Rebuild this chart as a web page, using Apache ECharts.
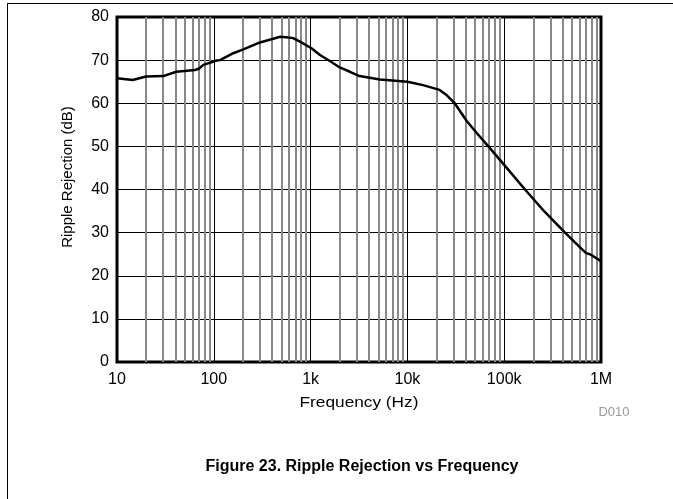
<!DOCTYPE html>
<html>
<head>
<meta charset="utf-8">
<script src="https://cdn.jsdelivr.net/npm/echarts@6/dist/echarts.min.js"></script>
<style>
html,body{margin:0;padding:0;background:#fff;}
#chart{width:673px;height:499px;}
</style>
</head>
<body>
<div id="chart"></div>
<script>
// Data
var frequencyHz = [10, 14.5, 20, 30, 41, 64, 70, 78, 107, 116, 159, 202, 300, 446, 480, 560, 660, 776, 1030, 1250, 1580, 2000, 2550, 3200, 5200, 10000, 14500, 21500, 25400, 30800, 41000, 52000, 68600, 100000, 164000, 260000, 425000, 600000, 707000, 770000, 1000000];
var rippleRejectionDb = [65.8, 65.4, 66.2, 66.3, 67.3, 67.7, 68.0, 68.9, 69.9, 70.0, 71.6, 72.5, 74.1, 75.2, 75.4, 75.3, 75.1, 74.3, 72.7, 71.2, 69.8, 68.3, 67.3, 66.3, 65.5, 65.0, 64.2, 63.1, 61.9, 60.0, 55.9, 53.1, 50.0, 45.7, 40.0, 34.9, 30.0, 26.7, 25.2, 25.0, 23.4];
var xTickLabels = {10: '10', 100: '100', 1000: '1k', 10000: '10k', 100000: '100k', 1000000: '1M'};
var minorGridFreqs = [20,30,40,50,60,70,80,90,200,300,400,500,600,700,800,900,2000,3000,4000,5000,6000,7000,8000,9000,20000,30000,40000,50000,60000,70000,80000,90000,200000,300000,400000,500000,600000,700000,800000,900000];

var seriesData = frequencyHz.map(function (f, i) { return [f, rippleRejectionDb[i]]; });
var FONT = '"Liberation Sans", Arial, sans-serif';

var chart = echarts.init(document.getElementById('chart'), null, {renderer: 'canvas'});
chart.setOption({
  animation: false,
  backgroundColor: '#fff',
  grid: {left: 117, top: 17, right: 72, bottom: 137, show: true, borderColor: '#000', borderWidth: 3, backgroundColor: 'transparent'},
  xAxis: {
    type: 'log', logBase: 10, min: 10, max: 1000000,
    axisLine: {show: false},
    axisTick: {show: false},
    splitLine: {show: true, lineStyle: {color: '#000', width: 1}},
    axisLabel: {
      fontFamily: FONT, fontSize: 16, color: '#000', margin: 10,
      formatter: function (v) { return xTickLabels[Math.round(v)] || ''; }
    }
  },
  yAxis: {
    type: 'value', min: 0, max: 80, interval: 10,
    axisLine: {show: false},
    axisTick: {show: false},
    splitLine: {show: true, lineStyle: {color: '#000', width: 1}},
    axisLabel: {fontFamily: FONT, fontSize: 16, color: '#000', margin: 8}
  },
  graphic: [
    {type: 'line', shape: {x1: 7, y1: 3.5, x2: 673, y2: 3.5}, style: {stroke: '#000', lineWidth: 1}, silent: true},
    {type: 'line', shape: {x1: 7.5, y1: 3, x2: 7.5, y2: 499}, style: {stroke: '#000', lineWidth: 1}, silent: true},
    {type: 'text', x: 68, y: 177, rotation: Math.PI / 2, style: {text: 'Ripple Rejection (dB)', fontFamily: FONT, fontSize: 15, fill: '#000', align: 'center', verticalAlign: 'middle'}, silent: true},
    {type: 'text', x: 359, y: 403, scaleX: 1.15, style: {text: 'Frequency (Hz)', fontFamily: FONT, fontSize: 15, fill: '#000', align: 'center', verticalAlign: 'middle'}, silent: true},
    {type: 'text', x: 614, y: 412, style: {text: 'D010', fontFamily: FONT, fontSize: 13, fill: '#999', align: 'center', verticalAlign: 'middle'}, silent: true},
    {type: 'text', x: 362, y: 467, style: {text: 'Figure 23. Ripple Rejection vs Frequency', fontFamily: FONT, fontSize: 16, fontWeight: 'bold', fill: '#000', align: 'center', verticalAlign: 'middle'}, silent: true}
  ],
  series: [{
    type: 'line',
    data: seriesData,
    showSymbol: false,
    smooth: false,
    lineStyle: {color: '#000', width: 2.5},
    z: 5,
    markLine: {
      silent: true, symbol: 'none', animation: false,
      label: {show: false},
      lineStyle: {color: '#888', width: 2, type: 'solid'},
      emphasis: {disabled: true},
      data: minorGridFreqs.map(function (f) { return {xAxis: f}; }),
      z: 1
    }
  }]
});
</script>
</body>
</html>
